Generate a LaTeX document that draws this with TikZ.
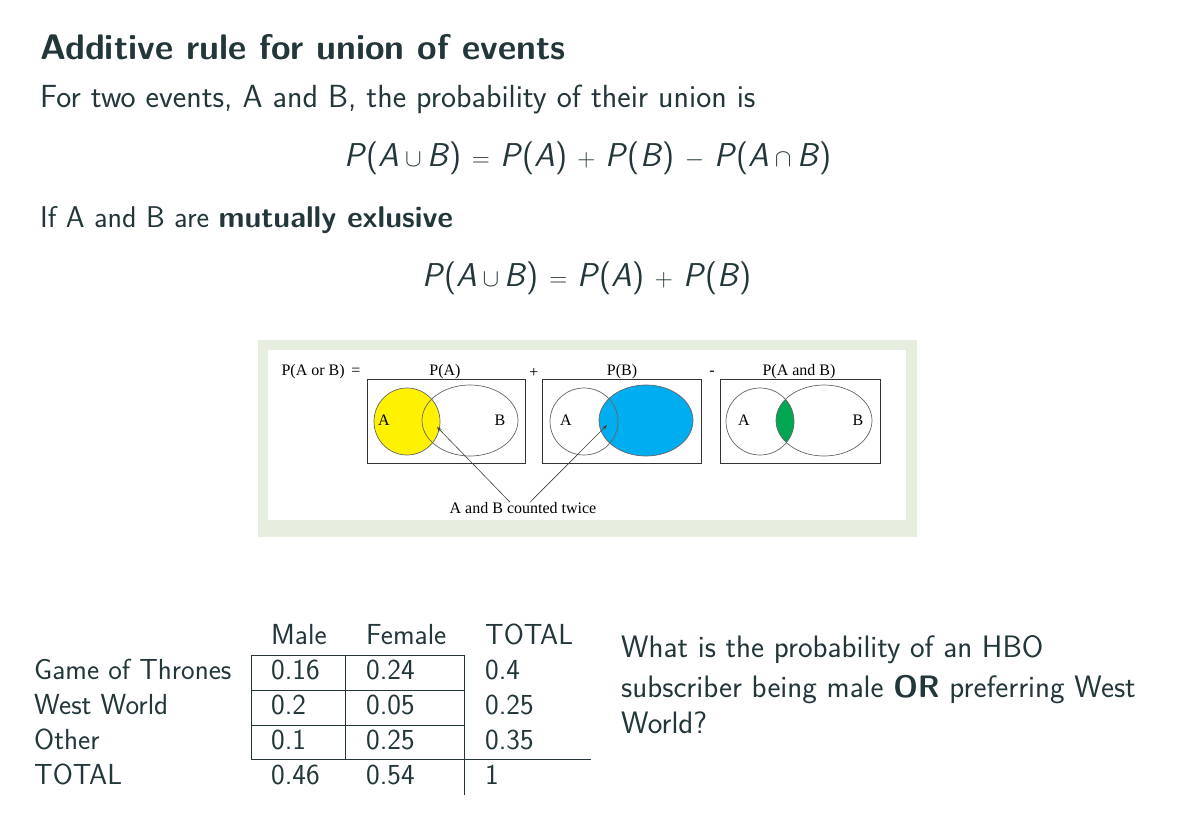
\documentclass[tikz,border=0pt]{standalone}
\usepackage{amsmath,amssymb}
\usepackage{fontspec}
\newfontfamily\venn{Liberation Serif}
\usepackage{xcolor}
\usetikzlibrary{positioning,arrows.meta}
\definecolor{fgtext}{HTML}{23373B}
\definecolor{frameg}{HTML}{E6EEDF}
\definecolor{vyellow}{HTML}{FFF200}
\definecolor{vblue}{HTML}{00AEEF}
\definecolor{vgreen}{HTML}{00A651}
\newcommand{\sv}[1]{\textsf{\itshape #1}}

\begin{document}
\begin{tikzpicture}[
    x=1pt, y=-1pt,
    >=Stealth,
    txt/.style={anchor=base west, inner sep=0pt, text=fgtext,
                font=\fontsize{29}{34}\selectfont\sffamily},
    big/.style={txt, font=\fontsize{32}{36}\selectfont\sffamily},
    ttl/.style={anchor=base west, inner sep=0pt, text=fgtext,
                font=\fontsize{35.5}{40}\selectfont\sffamily\bfseries},
    eqn/.style={anchor=center, inner sep=0pt, text=fgtext,
                font=\fontsize{33}{37}\selectfont\sffamily},
    vlab/.style={inner sep=0pt, font=\fontsize{16}{18}\selectfont\venn},
    vbox/.style={draw=black!80, line width=0.9pt},
    vset/.style={draw=black!60, line width=0.7pt},
    grid/.style={draw=fgtext, line width=0.8pt},
]
    \useasboundingbox (0,0) rectangle (1192,816);
    \fill[white] (0,0) rectangle (1192,816);

    % Heading and rule
    \node[ttl] (title) at (40,60) {Additive rule for union of events};
    \node[big] (intro) at (40,107) {For two events, A and B, the probability of their union is};
    \node[eqn] (rule1) at (588,158) {\sv{P}(\sv{A}\,$\cup$\,\sv{B}) $=$ \sv{P}(\sv{A}) $+$ \sv{P}(\sv{B}) $-$ \sv{P}(\sv{A}\,$\cap$\,\sv{B})};
    \node[big, font=\fontsize{30}{34}\selectfont\sffamily] (mutex) at (40,227) {If A and B are \textbf{mutually exlusive}};
    \node[eqn] (rule2) at (587,278) {\sv{P}(\sv{A}\,$\cup$\,\sv{B}) $=$ \sv{P}(\sv{A}) $+$ \sv{P}(\sv{B})};

    % Venn picture
    \fill[frameg] (258,340) rectangle (917,537);
    \fill[white] (268,350) rectangle (906,520);
    \node[vlab] (lor) at (321,372) {P(A or B) \,=};
    \node[vlab] (lpa) at (445,372) {P(A)};
    \node[vlab] (lplus) at (534,373) {+};
    \node[vlab] (lpb) at (622,372) {P(B)};
    \node[vlab] (lminus) at (712,373) {-};
    \node[vlab] (lpab) at (799,372) {P(A and B)};

    % box 1: P(A)
    \draw[vbox] (367,379) rectangle (525,463);
    \fill[vyellow] (407,421.5) ellipse [x radius=33, y radius=33.5];
    \draw[vset] (407,421.5) ellipse [x radius=33, y radius=33.5];
    \draw[vset] (470,420.5) ellipse [x radius=48, y radius=35.5];
    \node[vlab] (a1) at (384,420) {A};
    \node[vlab] (b1) at (500,420) {B};

    % box 2: P(B)
    \draw[vbox] (542,379) rectangle (701,463);
    \fill[vblue] (646,420.5) ellipse [x radius=47, y radius=35.5];
    \draw[vset] (584,421.5) ellipse [x radius=34, y radius=33.5];
    \draw[vset] (646,420.5) ellipse [x radius=47, y radius=35.5];
    \node[vlab] (a2) at (566,420) {A};

    % box 3: P(A and B)
    \draw[vbox] (720,379) rectangle (880,463);
    \begin{scope}
        \clip (760,421.5) ellipse [x radius=34, y radius=33.5];
        \fill[vgreen] (824,420.5) ellipse [x radius=48, y radius=35.5];
    \end{scope}
    \draw[vset] (760,421.5) ellipse [x radius=34, y radius=33.5];
    \draw[vset] (824,420.5) ellipse [x radius=48, y radius=35.5];
    \node[vlab] (a3) at (744,420) {A};
    \node[vlab] (b3) at (858,420) {B};

    % counted twice
    \node[vlab] (twice) at (523,508) {A and B counted twice};
    \coordinate (hit1) at (437,427);
    \coordinate (hit2) at (607,425);
    \draw[-{Stealth[length=5pt]}, black!75, line width=0.6pt] ([xshift=-13pt]twice.north) -- (hit1);
    \draw[-{Stealth[length=5pt]}, black!75, line width=0.6pt] ([xshift=7pt]twice.north) -- (hit2);

    % Table
    \node[txt] (hm) at (271,644) {Male};
    \node[txt] (hf) at (366,644) {Female};
    \node[txt] (ht) at (485,644) {TOTAL};
    \node[txt] (r1) at (34,679) {Game of Thrones};
    \node[txt] (r2) at (34,714) {West World};
    \node[txt] (r3) at (34,749) {Other};
    \node[txt] (r4) at (34,784) {TOTAL};
    \foreach \y/\m/\f/\t in {679/0.16/0.24/0.4, 714/0.2/0.05/0.25,
                             749/0.1/0.25/0.35, 784/0.46/0.54/1} {
        \node[txt] at (271,\y) {\m};
        \node[txt] at (366,\y) {\f};
        \node[txt] at (485,\y) {\t};
    }
    \draw[grid] (251,655) -- (464,655);
    \draw[grid] (251,690) -- (464,690);
    \draw[grid] (251,725) -- (464,725);
    \draw[grid] (251,759) -- (591,759);
    \draw[grid] (251,655) -- (251,759);
    \draw[grid] (345,655) -- (345,759);
    \draw[grid] (464,655) -- (464,795);

    % Question
    \node[big, font=\fontsize{31}{35}\selectfont\sffamily] (q1) at (621,657) {What is the probability of an HBO};
    \node[big, font=\fontsize{31}{35}\selectfont\sffamily] (q2) at (621,697) {subscriber being male \textbf{OR} preferring West};
    \node[big, font=\fontsize{31}{35}\selectfont\sffamily] (q3) at (621,733) {World?};
\end{tikzpicture}
\end{document}
